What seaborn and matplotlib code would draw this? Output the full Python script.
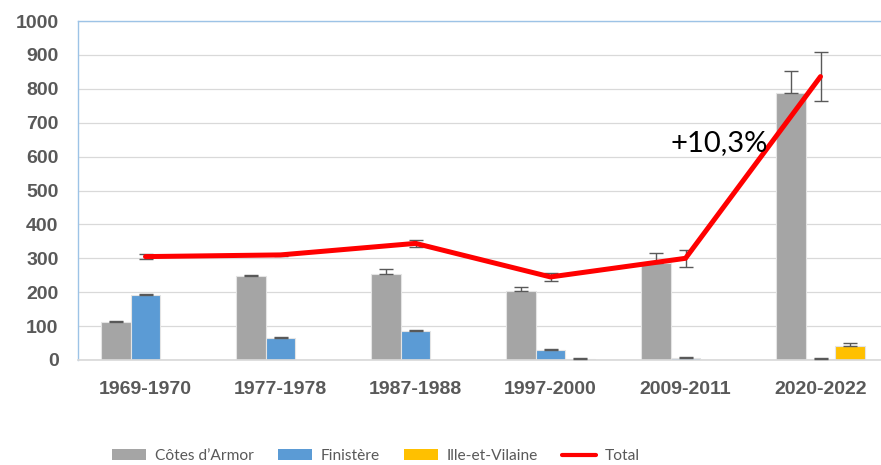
import numpy as np
import pandas as pd
import matplotlib
matplotlib.use("Agg")
import matplotlib.pyplot as plt
import seaborn as sns
from matplotlib.patches import Patch
from matplotlib.lines import Line2D

periods = ["1969-1970", "1977-1978", "1987-1988", "1997-2000", "2009-2011", "2020-2022"]
series_names = ["Côtes d\u2019Armor", "Finistère", "Ille-et-Vilaine"]
cotes_armor = [112, 247, 254, 205, 286, 788]
finistere = [193, 65, 87, 29, 6, 4]
ille_vilaine = [0, 0, 0, 3, 0, 40]
cotes_err = [3, 3, 13, 10, 29, 64]
finistere_err = [2, 2, 2, 3, 2, 2]
ille_err = [0, 0, 0, 2, 0, 9]
total = [305, 310, 344, 245, 300, 836]
total_err = [8, 3, 10, 12, 25, 72]
yticks = [0, 100, 200, 300, 400, 500, 600, 700, 800, 900, 1000]

colors = ["#A5A5A5", "#5B9BD5", "#FFC000"]
text_gray = "#595959"

sns.set_theme(style="white")
plt.rcParams["font.family"] = ["Liberation Sans", "DejaVu Sans"]

df = pd.DataFrame({
    "period": periods * 3,
    "series": sum([[s] * len(periods) for s in series_names], []),
    "value": cotes_armor + finistere + ille_vilaine,
})

fig = plt.figure(figsize=(8.81, 4.65), dpi=100)
ax = fig.add_axes([78 / 881, 1 - 360 / 465, 810 / 881, (360 - 21) / 465])

sns.barplot(data=df, x="period", y="value", hue="series", order=periods,
            hue_order=series_names, palette=colors, width=0.66, errorbar=None,
            saturation=1, ax=ax, legend=False, zorder=2,
            edgecolor="#E4E4E4", linewidth=0.8)

# upper error bars on each bar, positioned from the drawn patches
errs = [cotes_err, finistere_err, ille_err]
vals = [cotes_armor, finistere, ille_vilaine]
bars = ax.patches
n = len(periods)
for k in range(3):
    for i in range(n):
        if errs[k][i] <= 0:
            continue
        p = bars[k * n + i]
        xc = p.get_x() + p.get_width() / 2
        ax.errorbar(xc, vals[k][i], yerr=[[0], [errs[k][i]]], fmt="none",
                    ecolor=text_gray, elinewidth=1, capsize=5, capthick=1, zorder=3)

ax.errorbar(np.arange(n), total, yerr=total_err, fmt="none", ecolor=text_gray,
            elinewidth=1, capsize=5, capthick=1, zorder=3)
sns.lineplot(x=np.arange(n), y=total, color="#FF0000", linewidth=3.6, ax=ax,
             zorder=4, legend=False)

ax.text(4.25, 641, "+10,3%", fontsize=21, family=["Lato", "DejaVu Sans"],
        color="black", ha="center", va="center", zorder=5)

ax.set_xlim(-0.5, 5.5)
ax.set_ylim(0, 1000)
ax.set_yticks(yticks)
ax.set_yticklabels([str(t) for t in yticks])
ax.set_xlabel("")
ax.set_ylabel("")
ax.yaxis.grid(True, color="#D9D9D9", linewidth=0.9, zorder=0)
ax.set_axisbelow(True)
ax.tick_params(axis="y", length=0, pad=14, labelsize=14, labelcolor=text_gray)
ax.tick_params(axis="x", length=0, pad=15, labelsize=14, labelcolor=text_gray)
for lab in ax.get_xticklabels() + ax.get_yticklabels():
    lab.set_fontweight("bold")

for side in ["left", "top"]:
    ax.spines[side].set_color("#9DC3E6")
    ax.spines[side].set_linewidth(1)
ax.spines["bottom"].set_color("#D9D9D9")
ax.spines["right"].set_visible(False)

handles = [Patch(facecolor=c, edgecolor="none") for c in colors]
handles.append(Line2D([0], [0], color="#FF0000", linewidth=3))
leg = fig.legend(handles, series_names + ["Total"], loc="center left",
                 bbox_to_anchor=(104 / 881, 1 - 456 / 465), ncol=4, frameon=False,
                 prop={"family": ["Lato", "DejaVu Sans"], "size": 11.2},
                 handlelength=2.2, handleheight=0.62, handletextpad=0.6,
                 columnspacing=1.5, borderpad=0)
for t in leg.get_texts():
    t.set_color(text_gray)

fig.savefig("out.png", dpi=100)
